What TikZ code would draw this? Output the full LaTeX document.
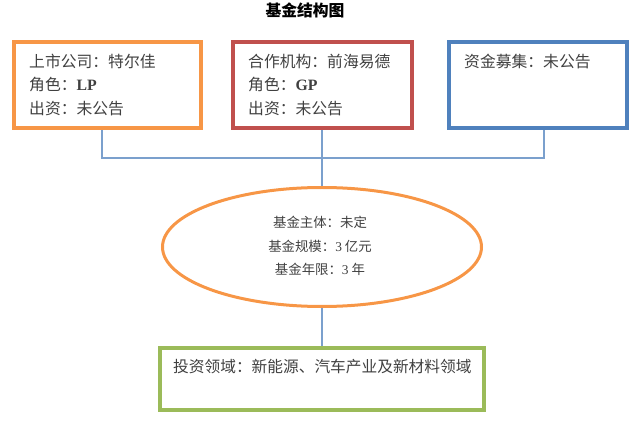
\documentclass[tikz,border=0pt]{standalone}
\usepackage{fontspec}
\setmainfont{Liberation Serif}
\newfontfamily\cjk{Noto Sans CJK SC}
\usetikzlibrary{shapes.geometric}
\definecolor{borange}{HTML}{F79646}
\definecolor{bred}{HTML}{C0504D}
\definecolor{bblue}{HTML}{4F81BD}
\definecolor{bgreen}{HTML}{9BBB59}
\definecolor{conn}{HTML}{7BA0CD}
\definecolor{txt}{HTML}{404040}
\tikzset{
  infobox/.style={draw, line width=4pt, minimum height=86pt, inner sep=0pt},
  boxtext/.style={anchor=base west, inner sep=0pt, text=txt, font=\fontsize{15.8}{18}\selectfont\cjk},
  elltext/.style={anchor=base, inner sep=0pt, text=txt, font=\fontsize{13.4}{16}\selectfont\cjk},
  link/.style={draw=conn, line width=1.5pt}
}
\begin{document}
\begin{tikzpicture}[x=1pt,y=-1pt]
\useasboundingbox (0,0) rectangle (640,430);
\node[anchor=base, inner sep=0pt, font=\fontsize{15.8}{18}\selectfont\cjk\bfseries, text=black] (title) at (305,17) {基金结构图};

\node[infobox, draw=borange, minimum width=187pt] (b1) at (107.5,85) {};
\node[infobox, draw=bred, minimum width=179pt] (b2) at (322.5,85) {};
\node[infobox, draw=bblue, minimum width=178pt] (b3) at (538,85) {};

\node[boxtext] (t11) at (29,67.5) {上市公司：特尔佳};
\node[boxtext] (t12) at (29,91) {角色：{\rmfamily\bfseries LP}};
\node[boxtext] (t13) at (29,114.5) {出资：未公告};

\node[boxtext] (t21) at (248,67.5) {合作机构：前海易德};
\node[boxtext] (t22) at (248,91) {角色：{\rmfamily\bfseries GP}};
\node[boxtext] (t23) at (248,114.5) {出资：未公告};

\node[boxtext] (t31) at (464,67.5) {资金募集：未公告};

\node[ellipse, draw=borange, line width=3pt, minimum width=319pt, minimum height=119pt, inner sep=0pt] (ell) at (322,247) {};
\node[elltext] (e1) at (320,228) {基金主体：未定};
\node[elltext] (e2) at (320,252) {基金规模：{\rmfamily 3} 亿元};
\node[elltext] (e3) at (320,274.5) {基金年限：{\rmfamily 3} 年};

\node[draw=bgreen, line width=4pt, minimum width=324pt, minimum height=62pt, inner sep=0pt] (g) at (322,379) {};
\node[boxtext, font=\fontsize{15.7}{18}\selectfont\cjk] (gt) at (173,372.5) {投资领域：新能源、汽车产业及新材料领域};

\coordinate (h1) at (102,158);
\coordinate (h2) at (544,158);
\coordinate (hm) at (322,158);
\draw[link] ([xshift=-5.5pt]b1.south) -- (h1) -- (h2) -- ([xshift=6pt]b3.south);
\draw[link] ([xshift=-0.5pt]b2.south) -- (hm) -- (ell.north);
\draw[link] (ell.south) -- (g.north);
\end{tikzpicture}
\end{document}
